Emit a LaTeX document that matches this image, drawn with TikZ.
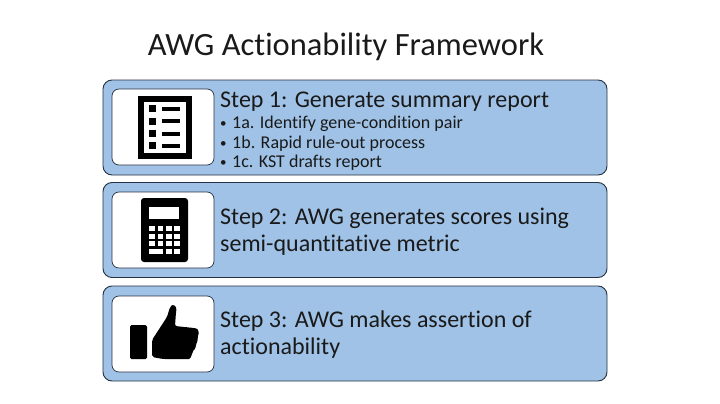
\documentclass[tikz,border=0pt]{standalone}
\usepackage{fontspec}
\setmainfont{Carlito}[Ligatures=CommonOff]
\usetikzlibrary{positioning}
\definecolor{panelblue}{RGB}{159,194,230}
\definecolor{paneledge}{RGB}{38,50,66}
\definecolor{inktext}{RGB}{26,26,26}
\newcommand{\bulletline}[1]{\makebox[12pt][l]{\raisebox{1.2pt}{\fontsize{13}{13}\selectfont •}}#1}

\begin{document}
\begin{tikzpicture}
    [x=1pt, y=-1pt,
    panel/.style={draw=paneledge, fill=panelblue, line width=0.9pt, rounded corners=9pt, minimum width=504pt, minimum height=95pt, inner sep=0pt},
    iconbox/.style={draw=paneledge, fill=white, line width=0.7pt, rounded corners=7pt, minimum width=102pt, minimum height=76pt, inner sep=0pt},
    steptext/.style={anchor=west, align=left, inner sep=0pt, text=inktext, font=\fontsize{24}{27}\selectfont},
    subtext/.style={anchor=west, align=left, inner sep=0pt, text=inktext, font=\fontsize{18}{20}\selectfont}]

    \useasboundingbox [fill=white] (0,0) rectangle (720,404);

    \node [text=inktext, font=\fontsize{32.5}{36}\selectfont] (title) at (346,46.5) {AWG Actionability Framework};

    % the three panels
    \node [panel] (p1) at (355,127.5) {};
    \node [panel] (p2) at (355,230) {};
    \node [panel] (p3) at (355,333.5) {};

    \node [iconbox] (i1) at (163,127) {};
    \node [iconbox] (i2) at (163,230) {};
    \node [iconbox] (i3) at (163,334) {};

    \node [steptext] (s1) at (220,101.5) {Step 1: Generate summary report};
    \node [subtext] (s1a) at (220,123.5) {\bulletline{1a. Identify gene-condition pair}};
    \node [subtext] (s1b) at (220,143.5) {\bulletline{1b. Rapid rule-out process}};
    \node [subtext] (s1c) at (220,163) {\bulletline{1c. KST drafts report}};
    \node [steptext] (s2) at (220,231.5) {Step 2: AWG generates scores using\\semi-quantitative metric};
    \node [steptext] (s3) at (220,335) {Step 3: AWG makes assertion of\\actionability};

    % report icon
    \draw [black, line width=6pt] (141,99) rectangle (189,156);
    \foreach \y in {105,117.5,130,142} {
        \fill [black] (149,\y) rectangle (156,\y+7);
        \fill [black] (162,\y+1.5) rectangle (180,\y+5.5);
    }

    % calculator icon
    \fill [black, rounded corners=3pt] (141,198) rectangle (188,262);
    \fill [white] (149,207) rectangle (179,219);
    \foreach \y in {226,233.5,241,248.5} {
        \foreach \x in {149,157.5,166,174} {
            \fill [white] (\x,\y) rectangle (\x+5.5,\y+5);
        }
    }
    \fill [white] (149,248.5) rectangle (163,253.5);

    % thumb icon
    \fill [black, rounded corners=1.5pt] (130,325) rectangle (147,359);
    \fill [black, rounded corners=2pt] (152,357) -- (152,340) -- (167,317) -- (170,307)
        .. controls (173,304) and (177,306) .. (176,312) -- (175,326) -- (194,328)
        .. controls (199,329) and (199,334) .. (197,337) .. controls (198,340) and (197,343) .. (195,345)
        .. controls (196,348) and (194,350) .. (192,352) .. controls (192,356) and (190,359) .. (187,359)
        -- (163,359) -- cycle;
\end{tikzpicture}
\end{document}
